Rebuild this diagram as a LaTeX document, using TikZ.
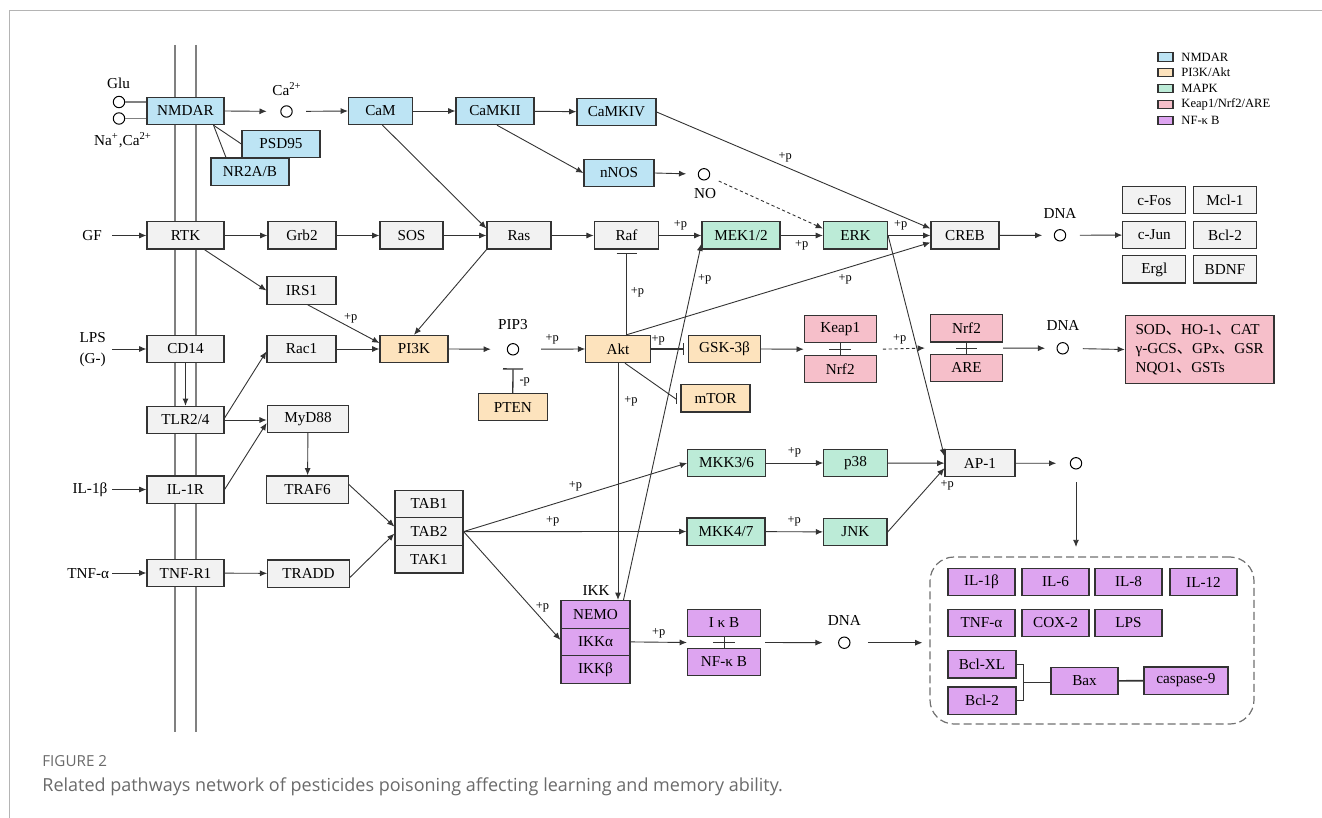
\documentclass[tikz,border=0pt]{standalone}
\usepackage{fontspec}
\setmainfont{Liberation Serif}
\newfontfamily\capfont{Open Sans}
\newfontfamily\cjk{Noto Sans CJK SC}
\usetikzlibrary{arrows.meta,calc}
\definecolor{blueC}{HTML}{BDE4F4}
\definecolor{peachC}{HTML}{FDE3BD}
\definecolor{greenC}{HTML}{BCEBD7}
\definecolor{pinkC}{HTML}{F6BFCA}
\definecolor{purpC}{HTML}{DDA4F0}
\definecolor{grayC}{HTML}{F2F2F2}
\definecolor{bordC}{HTML}{333333}
\definecolor{lineC}{HTML}{333333}
\definecolor{membC}{HTML}{808080}
\definecolor{frameC}{HTML}{B4B4B4}
\definecolor{capC}{HTML}{6A6A6A}
\definecolor{dashC}{HTML}{707070}
\newcommand{\bxfont}{\fontsize{7.6}{9}\selectfont}
\newcommand{\pfont}{\fontsize{6.2}{7}\selectfont}
\newcommand{\lgfont}{\fontsize{6.3}{7}\selectfont}
\newcommand{\dun}{{\cjk 、}}
\begin{document}
\begin{tikzpicture}[x=0.5pt,y=-0.5pt,
  bx/.style={draw=bordC, line width=0.6pt, inner sep=0pt, minimum height=13.6pt, font=\bxfont, fill=grayC},
  blu/.style={bx, fill=blueC},
  pch/.style={bx, fill=peachC},
  grn/.style={bx, fill=greenC},
  pnk/.style={bx, fill=pinkC},
  prp/.style={bx, fill=purpC},
  wd/.style={minimum width=#1*0.5pt},
  circ/.style={circle, draw=black, line width=0.5pt, minimum size=5.7pt, inner sep=0pt},
  ln/.style={draw=lineC, line width=0.45pt},
  arr/.style={ln, -{Latex[length=3.6pt,width=3pt]}},
  inh/.style={draw=lineC, line width=0.65pt, -{Bar[width=6pt]}},
  lbl/.style={font=\bxfont, inner sep=0pt},
  pl/.style={font=\pfont, inner sep=0pt},
  lgbox/.style={draw=bordC, line width=0.6pt, minimum width=7.5pt, minimum height=4.2pt, inner sep=0pt},
  lgtxt/.style={anchor=west, font=\lgfont, inner sep=0pt}
]
\useasboundingbox (0,0) rectangle (1322,818);
% frame
\draw[frameC, line width=0.5pt] (9,818) -- (9,11) -- (1322,11);
% membrane
\draw[membC, line width=0.6pt] (175,45) -- (175,732);
\draw[membC, line width=0.6pt] (196,45) -- (196,732);

% ---------- NMDAR pathway
\node[blu, wd=77] (nmdar) at (185.5,111) {NMDAR};
\node[blu, wd=64] (cam) at (380.5,111) {CaM};
\node[blu, wd=78] (camkii) at (495,111) {CaMKII};
\node[blu, wd=79] (camkiv) at (616.5,112) {CaMKIV};
\node[blu, wd=78] (psd) at (281,144) {PSD95};
\node[blu, wd=78] (nr2) at (250,171.7) {NR2A/B};
\node[blu, wd=70] (nnos) at (619,173) {nNOS};
\node[circ] (glu1) at (119,102) {};
\node[circ] (glu2) at (119,118.5) {};
\node[lbl] (glu) at (118.5,83.5) {Glu};
\node[lbl] (naca) at (123,140) {Na\textsuperscript{+},Ca\textsuperscript{2+}};
\node[circ] (ca) at (286.5,111.5) {};
\node[lbl] (calbl) at (287,89) {Ca\textsuperscript{2+}};
\node[circ] (no) at (704,174.3) {};
\node[lbl] (nolbl) at (705,194) {NO};

% ---------- row RTK
\node[bx, wd=77] (rtk) at (185.5,235.5) {RTK};
\node[bx, wd=68] (grb2) at (302,235.5) {Grb2};
\node[bx, wd=63] (sos) at (411.5,235.5) {SOS};
\node[bx, wd=64] (ras) at (519,235.5) {Ras};
\node[bx, wd=64.5] (raf) at (626.5,235.5) {Raf};
\node[grn, wd=78] (mek) at (741,235.5) {MEK1/2};
\node[grn, wd=64] (erk) at (855.5,235.5) {ERK};
\node[bx, wd=68] (creb) at (965,235.5) {CREB};
\node[circ] (dna1) at (1060,235.3) {};
\node[lbl] (dna1l) at (1060,213) {DNA};
\node[bx, wd=63] (cfos) at (1154.3,200.3) {c-Fos};
\node[bx, wd=63.5] (mcl1) at (1225,200.3) {Mcl-1};
\node[bx, wd=63] (cjun) at (1154.3,235) {c-Jun};
\node[bx, wd=63.5] (bcl2a) at (1225,235) {Bcl-2};
\node[bx, wd=63] (ergl) at (1154.3,269.5) {Ergl};
\node[bx, wd=63.5] (bdnf) at (1225,269.5) {BDNF};
\coordinate (gfa) at (112,235.5);
\node[lbl] (gf) at (92,235.7) {GF};

% ---------- PI3K / Akt
\node[bx, wd=69] (irs1) at (301.5,290.5) {IRS1};
\node[bx, wd=77] (cd14) at (185.5,349) {CD14};
\node[bx, wd=69] (rac1) at (301.5,349) {Rac1};
\node[pch, wd=68] (pi3k) at (414,349) {PI3K};
\node[circ] (pip3) at (513,349.3) {};
\node[lbl] (pip3l) at (513,325) {PIP3};
\node[pch, wd=64.5] (akt) at (618,349) {Akt};
\node[pch, wd=72] (gsk) at (724.5,349) {GSK-3β};
\node[pch, wd=69] (mtor) at (715.5,398.3) {mTOR};
\node[pch, wd=69] (pten) at (512.8,407.2) {PTEN};
\node[pnk, wd=72] (keap1) at (840.3,329.2) {Keap1};
\node[pnk, wd=72] (nrf2a) at (840.3,369.2) {Nrf2};
\node[pnk, wd=72] (nrf2b) at (966.5,328.3) {Nrf2};
\node[pnk, wd=72] (are) at (966.5,367.8) {ARE};
\node[circ] (dna2) at (1062.7,348.3) {};
\node[lbl] (dna2l) at (1063,325) {DNA};
\node[pnk, wd=148.7, minimum height=33.8pt, align=left] (sod) at (1199.7,349.5)
  {SOD\dun HO-1\dun CAT\\[0.6pt]γ-GCS\dun GPx\dun GSR\\[0.6pt]NQO1\dun GSTs};
\coordinate (lpsa) at (112,349);
\node[lbl, align=center] (lps) at (92.7,349.5) {LPS\\[1.2pt](G-)};

% ---------- TLR / IL-1R / TNF
\node[bx, wd=77] (tlr) at (185.5,420) {TLR2/4};
\node[bx, wd=81.5] (myd) at (308,419) {MyD88};
\node[bx, wd=77] (il1r) at (185.5,489.5) {IL-1R};
\node[bx, wd=81.5] (traf6) at (307.5,489.5) {TRAF6};
\node[bx, wd=77] (tnfr1) at (185.5,573) {TNF-R1};
\node[bx, wd=81.5] (tradd) at (308.5,573.5) {TRADD};
\coordinate (il1ba) at (112,489.5);
\node[lbl] (il1b0) at (90,490) {IL-1β};
\coordinate (tnfaa) at (112,573);
\node[lbl] (tnfa0) at (88.3,573.3) {TNF-α};
\node[bx, wd=68, minimum height=13.8pt] (tab1) at (429,504) {TAB1};
\node[bx, wd=68, minimum height=13.8pt] (tab2) at (429,531.6) {TAB2};
\node[bx, wd=68, minimum height=13.8pt] (tak1) at (429,559.2) {TAK1};

% ---------- MAPK
\node[grn, wd=77.5] (mkk36) at (726.5,463) {MKK3/6};
\node[grn, wd=63.5] (p38) at (855.5,463) {p38};
\node[bx, wd=70] (ap1) at (980,463.2) {AP-1};
\node[circ] (apc) at (1076,463.3) {};
\node[grn, wd=78] (mkk47) at (726,531.5) {MKK4/7};
\node[grn, wd=63.5] (jnk) at (855.3,532) {JNK};

% ---------- NF-kB
\node[lbl] (ikkl) at (596,590.7) {IKK};
\node[prp, wd=69, minimum height=13.8pt] (nemo) at (595.5,614.3) {NEMO};
\node[prp, wd=69, minimum height=13.8pt] (ikka) at (595.5,641.9) {IKKα};
\node[prp, wd=69, minimum height=13.8pt] (ikkb) at (595.5,669.5) {IKKβ};
\node[prp, wd=73] (ikb) at (724,623) {I κ B};
\node[prp, wd=73] (nfkb) at (724,662) {NF-κ B};
\node[circ] (dna3) at (844.3,642.7) {};
\node[lbl] (dna3l) at (844.3,620) {DNA};

% ---------- outputs box
\node[draw=dashC, line width=0.6pt, dash pattern=on 4pt off 2pt, rounded corners=12pt,
      minimum width=162pt, minimum height=83.5pt, inner sep=0pt] (dbox) at (1092,640.5) {};
\node[prp, wd=67] (o1) at (981.5,582) {IL-1β};
\node[prp, wd=67] (o2) at (1055.5,582) {IL-6};
\node[prp, wd=67] (o3) at (1128.5,582) {IL-8};
\node[prp, wd=67] (o4) at (1203.5,582) {IL-12};
\node[prp, wd=67] (o5) at (981.5,623) {TNF-α};
\node[prp, wd=67] (o6) at (1055.5,623) {COX-2};
\node[prp, wd=67] (o7) at (1128.5,623) {LPS};
\node[prp, wd=68] (bclxl) at (982,664.3) {Bcl-XL};
\node[prp, wd=68] (bcl2b) at (982,700.5) {Bcl-2};
\node[prp, wd=67] (bax) at (1084.5,681) {Bax};
\node[prp, wd=84] (casp) at (1186,680.5) {caspase-9};

% ---------- legend
\node[lgbox, fill=blueC] (lg1) at (1165.5,57) {};
\node[lgbox, fill=peachC] (lg2) at (1165.5,72.5) {};
\node[lgbox, fill=greenC] (lg3) at (1165.5,88.5) {};
\node[lgbox, fill=pinkC] (lg4) at (1165.5,104.5) {};
\node[lgbox, fill=purpC] (lg5) at (1165.5,120.5) {};
\node[lgtxt] (lt1) at (1181,57) {NMDAR};
\node[lgtxt] (lt2) at (1181,72.5) {PI3K/Akt};
\node[lgtxt] (lt3) at (1181,88.5) {MAPK};
\node[lgtxt] (lt4) at (1181,104.5) {Keap1/Nrf2/ARE};
\node[lgtxt] (lt5) at (1181,120.5) {NF-κ B};

% ---------- caption
\node[anchor=base west, inner sep=0pt, text=capC, font=\capfont\fontsize{7.6}{9}\selectfont] (figl) at (42,766.5) {FIGURE 2};
\node[anchor=base west, inner sep=0pt, text=capC, font=\capfont\fontsize{9}{11}\selectfont] (capl) at (42,791) {Related pathways network of pesticides poisoning affecting learning and memory ability.};

% ================= connectors
\draw[membC, line width=0.8pt] (glu1.east) -- (glu1.east -| nmdar.west);
\draw[membC, line width=0.8pt] (glu2.east) -- (glu2.east -| nmdar.west);
\draw[arr, shorten >=6.8pt] (nmdar.east) -- (ca);
\draw[arr, shorten <=6.7pt] (ca) -- (cam.west);
\draw[arr] (cam) -- (camkii);
\draw[arr] (camkii) -- (camkiv);
\draw[ln] ($(nmdar.south)+(28,0)$) -- (psd.west);
\draw[ln] ($(nmdar.south)+(28,0)$) -- ($(nr2.north)+(-24,0)$);
\draw[arr] ($(camkii.south)+(2,0)$) -- (nnos.west);
\draw[arr, shorten >=5.8pt] (nnos.east) -- (no);
\draw[arr, dash pattern=on 1.6pt off 1.3pt, shorten <=5pt] (no) -- ($(erk.west)+(0,-7)$);
\draw[arr] (camkiv.east) -- ($(creb.west)+(0,-7)$) node[pl, pos=0.47, above, yshift=2pt] {+p};
\draw[arr] ($(cam.south)+(2,0)$) -- ($(ras.west)+(0,-7)$);

\draw[arr] (gfa) -- (rtk.west);
\draw[arr] (rtk) -- (grb2);
\draw[arr] (grb2) -- (sos);
\draw[arr] (sos) -- (ras);
\draw[arr] (ras) -- (raf);
\draw[arr] (raf) -- (mek) node[pl, midway, above, yshift=2.5pt] {+p};
\draw[arr] (mek) -- (erk) node[pl, midway, below, yshift=-2.5pt] {+p};
\draw[arr] (erk) -- (creb) node[pl, pos=0.3, above, yshift=2.5pt] {+p};
\draw[arr, shorten >=5.8pt] (creb) -- (dna1);
\draw[arr, shorten <=6.8pt] (dna1) -- (cjun);

\draw[arr] ($(rtk.south)+(19,0)$) -- (irs1.west);
\draw[arr] ($(irs1.south)+(6,0)$) -- ($(pi3k.west)+(0,-6)$) node[pl, pos=0.6, above, yshift=2pt] {+p};
\draw[arr] (ras.south west) -- (pi3k.north);
\draw[arr] (rac1) -- (pi3k);
\draw[arr] (lpsa) -- (cd14.west);
\draw[arr] (cd14) -- (tlr);
\draw[arr] ($(tlr.east)+(0,-2)$) -- ($(rac1.west)+(0,2.5)$);
\draw[arr] (tlr.east) -- (tlr.east -| myd.west);
\draw[arr] (il1r.east) -- ($(myd.west)+(0,4)$);
\draw[arr] (myd) -- (traf6);
\draw[arr] (il1ba) -- (il1r.west);
\draw[arr] (tnfaa) -- (tnfr1.west);
\draw[arr] (tnfr1) -- (tradd);
\draw[arr] ($(traf6.east)+(0,-5)$) -- ($(tab2.west)+(0,-5)$);
\draw[arr] ($(tradd.east)+(0,4)$) -- ($(tab2.west)+(0,2)$);

\draw[arr, shorten >=8pt] (pi3k.east) -- (pip3);
\draw[arr, shorten <=11pt] (pip3) -- (akt.west) node[pl, midway, above, yshift=2.5pt] {+p};
\draw[draw=lineC, line width=0.65pt, -{Bar[width=10pt]}] (pten.north) -- ($(pip3)+(0,19)$) node[pl, pos=0.45, right, xshift=3pt] {-p};
\draw[inh] (akt.east) -- ($(gsk.west)+(-4,0)$) node[pl, pos=0.22, above, yshift=1.5pt] {+p};
\draw[ln] ($(akt.south)+(7,0)$) -- ($(mtor.west)+(-4,1)$);
\draw[ln] ($(mtor.west)+(-4,-5.5)$) -- ($(mtor.west)+(-4,6)$);
\draw[arr] (gsk.east) -- ($(keap1.south west)!.5!(nrf2a.north west)$);
\draw[ln] (keap1.south) -- (nrf2a.north);
\draw[ln] ($(keap1.south)!.5!(nrf2a.north)+(-11,0)$) -- ($(keap1.south)!.5!(nrf2a.north)+(11,0)$);
\draw[arr, dash pattern=on 1.6pt off 1.3pt] ($(keap1.south east)!.5!(nrf2a.north east)+(6,0)$) -- ($(nrf2b.south west)!.5!(are.north west)+(-5,0)$) node[pl, pos=0.4, above, yshift=2pt] {+p};
\draw[ln] (nrf2b.south) -- (are.north);
\draw[ln] ($(nrf2b.south)!.5!(are.north)+(-10.5,0)$) -- ($(nrf2b.south)!.5!(are.north)+(10.5,0)$);
\draw[arr, shorten >=5.7pt] ($(nrf2b.south east)!.5!(are.north east)$) -- (dna2);
\draw[arr, shorten <=7pt] (dna2) -- (sod.west);

\draw[draw=lineC, line width=0.45pt, -{Bar[width=10pt]}, shorten >=1.5pt] (raf.south |- akt.north) -- (raf.south) node[pl, pos=0.5, right, xshift=2pt] {+p};
\draw[arr] (raf.south |- akt.north) -- ($(creb.west)+(0,7)$) node[pl, pos=0.72, below, yshift=-3pt] {+p};
\draw[arr] (akt.south) -- (akt.south |- nemo.north) node[pl, pos=0.16, right, xshift=3pt] {+p};
\draw[arr] ($(nemo.north)+(28,0)$) -- ($(mek.south west)+(0,-6)$) node[pl, pos=0.9, right, xshift=2pt] {+p};
\draw[arr] (erk.east) -- ($(ap1.west)+(0,-7)$);

\draw[arr] (tab2.east) -- (mkk36.west) node[pl, pos=0.5, above, yshift=3pt] {+p};
\draw[arr] (tab2.east) -- (mkk47.west) node[pl, pos=0.4, above, yshift=2.5pt] {+p};
\draw[arr] (tab2.east) -- ($(ikka.west)+(0,-2)$) node[pl, pos=0.7, right, xshift=2pt] {+p};
\draw[arr] (mkk36) -- (p38) node[pl, midway, above, yshift=2.5pt] {+p};
\draw[arr] (mkk47) -- (jnk) node[pl, midway, above, yshift=2.5pt] {+p};
\draw[arr] (p38) -- (ap1);
\draw[arr] (jnk.east) -- ($(ap1.west)+(0,5)$) node[pl, pos=0.82, right, xshift=3pt, yshift=-3pt] {+p};
\draw[arr, shorten >=6.8pt] (ap1.east) -- (apc);
\draw[arr, shorten <=6.3pt, shorten >=4.7pt] (apc) -- (apc |- dbox.north);

\draw[arr] (ikka.east) -- ($(ikb.south west)!.5!(nfkb.north west)$) node[pl, midway, above, yshift=2pt] {+p};
\draw[ln] (ikb.south) -- (nfkb.north);
\draw[ln] ($(ikb.south)!.5!(nfkb.north)+(-11,0)$) -- ($(ikb.south)!.5!(nfkb.north)+(11,0)$);
\draw[arr, shorten >=7.8pt] ($(ikb.south east)!.5!(nfkb.north east)+(4,0)$) -- (dna3);
\draw[arr, shorten <=8.7pt, shorten >=3.5pt] (dna3) -- (dna3 -| dbox.west);

\draw[ln] (bclxl.east) -- ++(7,0) |- (bcl2b.east);
\draw[ln] ($(bclxl.east)!.5!(bcl2b.east)+(7,0)$) -- (bax.west |- {$(bclxl.east)!.5!(bcl2b.east)$});
\draw[draw=lineC, line width=0.8pt] (bax) -- (casp);
\end{tikzpicture}
\end{document}
